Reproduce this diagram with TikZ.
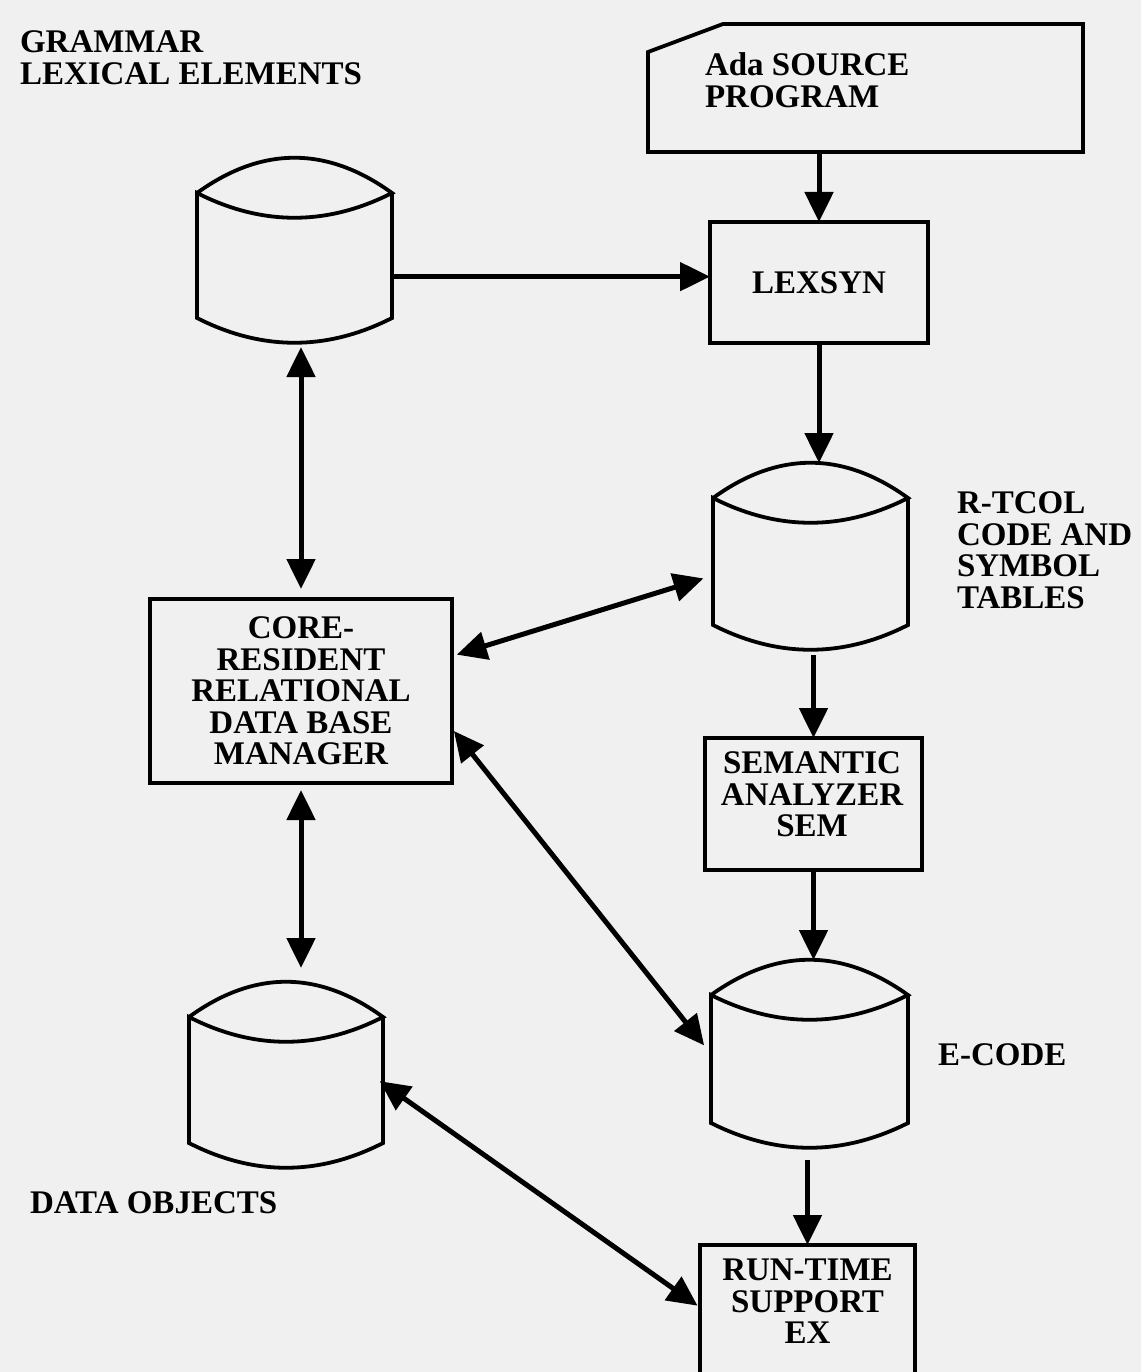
\documentclass[tikz,border=0pt]{standalone}
\usepackage{fontspec}
\setmainfont{Liberation Serif}
\usepackage{tikz}
\usetikzlibrary{arrows.meta}
\usetikzlibrary{calc}
\definecolor{paper}{RGB}{240,240,240}

% drum outline drawn round an invisible node
\newcommand{\drum}[1]{%
  \draw[outline] ($(#1.north west)+(0,35)$)
    .. controls ($(#1.north west)!0.333!(#1.north east)+(0,-12)$) and ($(#1.north west)!0.667!(#1.north east)+(0,-12)$) .. ($(#1.north east)+(0,35)$)
    .. controls ($(#1.north west)!0.667!(#1.north east)+(0,68)$) and ($(#1.north west)!0.333!(#1.north east)+(0,68)$) .. ($(#1.north west)+(0,35)$)
    -- ($(#1.south west)+(0,-25)$)
    .. controls ($(#1.south west)!0.333!(#1.south east)+(0,8)$) and ($(#1.south west)!0.667!(#1.south east)+(0,8)$) .. ($(#1.south east)+(0,-25)$)
    -- ($(#1.north east)+(0,35)$);}

\begin{document}
\begin{tikzpicture}[x=1pt,y=-1pt,
  outline/.style={draw=black, line width=3.8pt},
  box/.style={outline, inner sep=0pt, outer sep=0pt},
  drumnode/.style={draw=none, inner sep=0pt, outer sep=0pt, minimum width=196pt, minimum height=186pt},
  txt/.style={font=\fontsize{33}{31.5}\selectfont\bfseries, inner sep=0pt, outer sep=0pt, align=center},
  flow/.style={line width=5pt, -{Triangle[length=30pt,width=28pt]}},
  both/.style={line width=5pt, {Triangle[length=30pt,width=28pt]}-{Triangle[length=30pt,width=28pt]}}]
       \fill[paper] (0,0) rectangle (1141,1372);
       \useasboundingbox (0,0) rectangle (1141,1372);
       \clip (0,0) rectangle (1141,1372);

       \node[txt, align=left, anchor=west] (grammartxt) at (20,57.5) {GRAMMAR\\LEXICAL ELEMENTS};

       \node[inner sep=0pt, outer sep=0pt, minimum width=435pt, minimum height=128pt] (src) at (865.5,88) {};
       \draw[outline] (src.south west) -- ($(src.north west)+(0,28)$) -- ($(src.north west)+(75,0)$)
         -- (src.north east) -- (src.south east) -- cycle;
       \node[txt, align=left, anchor=west] (srctxt) at (705,80) {Ada SOURCE\\PROGRAM};

       \node[box, txt, minimum width=218pt, minimum height=121pt] (lexsyn) at (819,282.5) {LEXSYN};

       \node[drumnode, minimum width=195pt, minimum height=185pt] (grammar) at (294.5,250.5) {};
       \node[drumnode, minimum width=195pt, minimum height=187pt] (rtcol) at (810.5,556.5) {};
       \node[drumnode, minimum width=197pt, minimum height=188pt] (ecode) at (809.5,1054) {};
       \node[drumnode, minimum width=194pt, minimum height=186pt] (data) at (286,1075) {};
       \drum{grammar}
       \drum{rtcol}
       \drum{ecode}
       \drum{data}

       \node[txt, align=left, anchor=west] (rtcoltxt) at (957,550) {R-TCOL\\CODE AND\\SYMBOL\\TABLES};
       \node[txt, align=left, anchor=west] (ecodetxt) at (938,1055) {E-CODE};
       \node[txt, align=left, anchor=west] (datatxt) at (30,1203) {DATA OBJECTS};

       \node[box, txt, minimum width=302pt, minimum height=184pt] (core) at (301,691)
         {CORE-\\RESIDENT\\RELATIONAL\\DATA BASE\\MANAGER};

       \node[box, minimum width=217pt, minimum height=132pt] (sem) at (813.5,804) {};
       \node[txt] (semtxt) at (812,794.5) {SEMANTIC\\ANALYZER\\SEM};

       \node[box, minimum width=215pt, minimum height=155pt] (run) at (807.5,1322.5) {};
       \node[txt] (runtxt) at (807.5,1301.5) {RUN-TIME\\SUPPORT\\EX};

       % main flow
       \draw[flow] (lexsyn.north |- src.south) -- (lexsyn.north);
       \draw[flow] (grammar.-15) -- (grammar.-15 -| lexsyn.west);
       \draw[flow] (lexsyn.south) -- (lexsyn.south |- rtcol.north);
       \draw[flow, shorten <=5pt] (sem.north |- rtcol.south) -- (sem.north);
       \draw[flow] (sem.south) -- (sem.south |- ecode.north);
       \draw[flow, shorten <=12pt] (run.north |- ecode.south) -- (run.north);

       % data base manager links
       \draw[both, shorten <=4pt, shorten >=10pt] (core.north |- grammar.south) -- (core.north);
       \draw[both, shorten <=5pt, shorten >=10pt] (core.13) -- (rtcol.191);
       \draw[both, shorten <=3pt, shorten >=11pt] (core.-14) -- (ecode.west);
       \draw[both, shorten <=7pt, shorten >=14pt] (core.south) -- (core.south |- data.north);
       \draw[both, shorten <=-4pt, shorten >=3pt] (data.-5) -- (run.172);
\end{tikzpicture}
\end{document}
